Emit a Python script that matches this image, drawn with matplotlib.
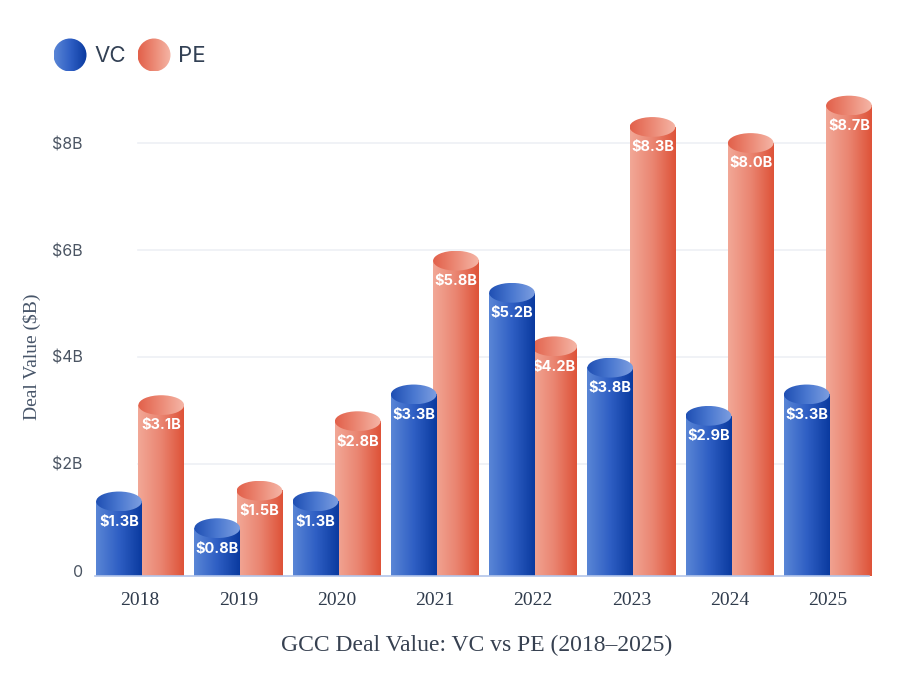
import numpy as np
import matplotlib
matplotlib.use("Agg")
import matplotlib.pyplot as plt
from matplotlib.patches import Rectangle, Ellipse
from matplotlib.colors import LinearSegmentedColormap

# data
years = ["2018", "2019", "2020", "2021", "2022", "2023", "2024", "2025"]
vc_values = [1.3, 0.8, 1.3, 3.3, 5.2, 3.8, 2.9, 3.3]
pe_values = [3.1, 1.5, 2.8, 5.8, 4.2, 8.3, 8.0, 8.7]
y_ticks = [0, 2, 4, 6, 8]
y_tick_labels = ["0", "$2B", "$4B", "$6B", "$8B"]

# gradient maps (left -> right)
vc_body = LinearSegmentedColormap.from_list("vcb", ["#5a86d6", "#2f5fc4", "#0a3a9f"])
vc_top = LinearSegmentedColormap.from_list("vct", ["#1f4fb3", "#4a78d0", "#7d9ee0"])
pe_body = LinearSegmentedColormap.from_list("peb", ["#f2a897", "#ea8571", "#de5238"])
pe_top = LinearSegmentedColormap.from_list("pet", ["#e2604a", "#ec8a76", "#f5b6a7"])

grad = np.linspace(0, 1, 256).reshape(1, -1)

BAR_W = 0.465
OFFSET = 0.215
CAP_H = 0.37    # ellipse height in data units
BOTTOM = -0.09


def cylinder(ax, xc, value, body_cmap, top_cmap, z):
    x0 = xc - BAR_W / 2
    body = Rectangle((x0, BOTTOM), BAR_W, value - BOTTOM, facecolor="none",
                     edgecolor="none", clip_on=False)
    ax.add_patch(body)
    im = ax.imshow(grad, cmap=body_cmap, aspect="auto",
                   extent=[x0, x0 + BAR_W, BOTTOM, value], zorder=z,
                   interpolation="bicubic")
    im.set_clip_path(body)
    im.set_clip_box(ax.figure.bbox)
    cap = Ellipse((xc, value), BAR_W, CAP_H, facecolor="none", edgecolor="none",
                  clip_on=False)
    ax.add_patch(cap)
    im2 = ax.imshow(grad, cmap=top_cmap, aspect="auto",
                    extent=[x0, x0 + BAR_W, value - CAP_H / 2, value + CAP_H / 2],
                    zorder=z + 0.1, interpolation="bicubic")
    im2.set_clip_path(cap)
    im2.set_clip_box(ax.figure.bbox)
    ax.text(xc, value - 0.38, f"${value:.1f}B", ha="center", va="center",
            color="white", fontsize=10.5, fontweight="bold", family="Inter",
            zorder=z + 0.2, clip_on=False)


fig = plt.figure(figsize=(9, 6.82), dpi=100)
ax = fig.add_axes([0.1011, 0.1628, 0.8733, 0.6275])

x = np.arange(len(years))
for i in range(len(years)):
    cylinder(ax, x[i] + OFFSET, pe_values[i], pe_body, pe_top, 3 + i * 0.01)
for i in range(len(years)):
    cylinder(ax, x[i] - OFFSET, vc_values[i], vc_body, vc_top, 4 + i * 0.01)

ax.set_xlim(-0.5, len(years) - 0.5)
ax.set_ylim(0, 8)

for t in y_ticks[1:]:
    ax.axhline(t, xmin=0.06, xmax=0.99, color="#edf0f5", lw=1.2, zorder=1,
               clip_on=False)
ax.axhline(BOTTOM, xmin=0.005, xmax=0.99, color="#b3c5ea", lw=1.2, zorder=6,
           clip_on=False)

for s in ax.spines.values():
    s.set_visible(False)
ax.set_yticks(y_ticks)
ax.set_yticklabels(y_tick_labels, family="Inter", fontsize=11.5, color="#4b5563")
ax.set_xticks(x)
ax.set_xticklabels(years, family="Liberation Serif", fontsize=14, color="#2f3b4c")
ax.tick_params(axis="both", length=0)
ax.tick_params(axis="y", pad=6)
ax.tick_params(axis="x", pad=15)

ax.set_ylabel("Deal Value ($B)", family="Liberation Serif", fontsize=14,
              color="#475569", labelpad=8)
fig.text(0.53, 0.053, "GCC Deal Value: VC vs PE (2018\u20132025)", ha="center",
         va="center", family="Liberation Serif", fontsize=17, color="#374151")

# legend with gradient circles
lax = fig.add_axes([0, 0.85, 0.3, 0.15])
lax.axis("off")
for cx, cmap, label in [(70, vc_body, "VC"), (154, pe_top, "PE")]:
    circ = Ellipse((cx, 55), 33, 33, facecolor="none", edgecolor="none")
    lax.add_patch(circ)
    im = lax.imshow(grad, cmap=cmap, aspect="auto",
                    extent=[cx - 16.5, cx + 16.5, 71.5, 38.5])
    im.set_clip_path(circ)
    lax.text(cx + 24, 56, label, ha="left", va="center", family="Inter",
             fontsize=16, color="#334155")
lax.set_xlim(0, 270)
lax.set_ylim(102.3, 0)

fig.savefig("out.png", dpi=100)
